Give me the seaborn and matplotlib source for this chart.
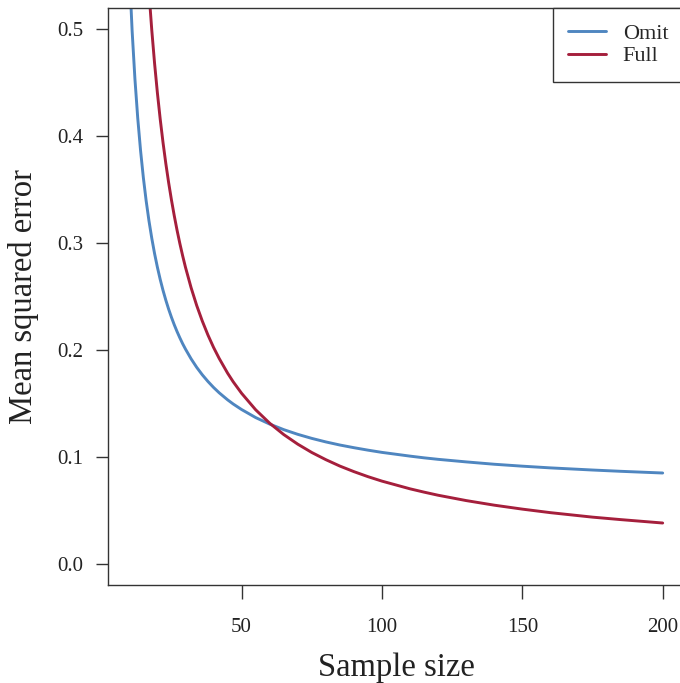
import numpy as np
import pandas as pd
import seaborn as sns
import matplotlib
matplotlib.use('Agg')
import matplotlib.pyplot as plt

# values
sample_size = [10, 11, 12, 13, 14, 15, 16, 17, 18, 19, 20, 21, 22, 23, 24, 25, 26, 27,
               28, 29, 30, 32, 34, 36, 38, 40, 42, 45, 47, 50, 55, 60, 65, 70, 75, 80,
               85, 90, 95, 100, 110, 115, 120, 130, 140, 150, 160, 175, 185, 200]
mse_omit = [0.5555, 0.4986, 0.4535, 0.4169, 0.3867, 0.3612, 0.3395, 0.3208, 0.3045, 0.2901,
            0.2774, 0.2660, 0.2558, 0.2466, 0.2382, 0.2306, 0.2236, 0.2172, 0.2113, 0.2058,
            0.2008, 0.1917, 0.1837, 0.1767, 0.1705, 0.1649, 0.1599, 0.1533, 0.1494, 0.1442,
            0.1367, 0.1306, 0.1254, 0.1210, 0.1172, 0.1139, 0.1110, 0.1085, 0.1062, 0.1041,
            0.1006, 0.0990, 0.0976, 0.0952, 0.0930, 0.0912, 0.0896, 0.0876, 0.0864, 0.0848]
mse_full = [1.0700, 0.9363, 0.8322, 0.7490, 0.6809, 0.6242, 0.5762, 0.5350, 0.4993, 0.4681,
            0.4406, 0.4161, 0.3942, 0.3745, 0.3567, 0.3405, 0.3257, 0.3121, 0.2996, 0.2881,
            0.2774, 0.2583, 0.2416, 0.2270, 0.2140, 0.2024, 0.1921, 0.1783, 0.1702, 0.1594,
            0.1440, 0.1314, 0.1208, 0.1118, 0.1040, 0.0973, 0.0913, 0.0861, 0.0814, 0.0772,
            0.0700, 0.0669, 0.0640, 0.0590, 0.0547, 0.0510, 0.0477, 0.0435, 0.0412, 0.0380]

df = pd.DataFrame({
    'n': sample_size * 2,
    'mse': mse_omit + mse_full,
    'model': ['Omit'] * len(sample_size) + ['Full'] * len(sample_size),
})
colors = {'Omit': '#4F86C0', 'Full': '#A51F3C'}

sns.set_theme(style='ticks')
plt.rcParams['font.family'] = ['Liberation Serif', 'DejaVu Serif']

fig = plt.figure(figsize=(6.8, 6.83), dpi=100)
ax = fig.add_axes([0.1588, 0.1435, 0.8471, 0.8448])

sns.lineplot(data=df, x='n', y='mse', hue='model', palette=colors,
             linewidth=2.1, ax=ax, legend=False)

ax.set_xlim(2.4, 207.6)
ax.set_ylim(-0.02, 0.52)
ax.set_xticks([50, 100, 150, 200])
ax.set_yticks([0.0, 0.1, 0.2, 0.3, 0.4, 0.5])
ax.set_yticklabels(['0.0', '0.1', '0.2', '0.3', '0.4', '0.5'])

for s in ax.spines.values():
    s.set_visible(True)
    s.set_color('#333333')
    s.set_linewidth(1.0)

ax.tick_params(axis='x', length=10, width=1, color='#333333', pad=14, labelsize=15, labelcolor='#222222')
ax.tick_params(axis='y', length=9, width=1, color='#333333', pad=9, labelsize=15, labelcolor='#222222')

ax.set_xlabel('Sample size', fontsize=23.5, color='#222222', labelpad=11)
ax.set_ylabel('Mean squared error', fontsize=23.5, color='#222222', labelpad=13)

h_omit, = ax.plot([], [], color=colors['Omit'], linewidth=2.1, label='Omit')
h_full, = ax.plot([], [], color=colors['Full'], linewidth=2.1, label='Full')
leg = ax.legend(handles=[h_omit, h_full], loc='upper right', borderaxespad=0,
                fancybox=False, framealpha=1, edgecolor='#333333', fontsize=16,
                handlelength=1.7, handletextpad=0.75, borderpad=0.7, labelspacing=0.08)
leg.get_frame().set_linewidth(1.0)

fig.savefig('out.png', dpi=100)
